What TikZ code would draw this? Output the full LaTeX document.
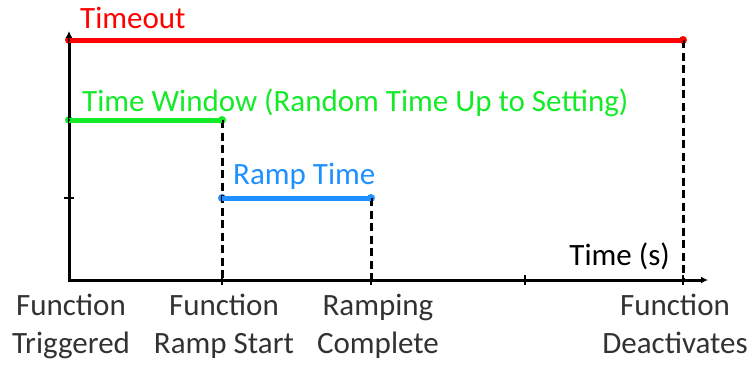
\documentclass[tikz,border=0pt]{standalone}
\usepackage{fontspec}
\setmainfont{Carlito}
\usetikzlibrary{arrows.meta}
\definecolor{tred}{RGB}{255,0,0}
\definecolor{tgreen}{RGB}{20,235,40}
\definecolor{tblue}{RGB}{30,144,255}
\definecolor{tgray}{RGB}{50,50,50}
\begin{document}
\begin{tikzpicture}[x=1pt,y=-1pt,
  axisline/.style={line width=3pt,black,{Latex[length=7pt,width=7pt]}-{Latex[length=7pt,width=7pt]}},
  tickmark/.style={line width=2.4pt,black},
  level/.style={line width=5pt},
  dropline/.style={line width=3pt,black,dash pattern=on 8pt off 4.5pt},
  enddot/.style={circle,inner sep=0pt,minimum size=8pt},
  lbl/.style={font=\fontsize{31}{38}\selectfont,inner sep=0pt},
  bottomlbl/.style={lbl,align=center,text=tgray,anchor=base}
]
\useasboundingbox (0,0) rectangle (754,364);
% key points
\coordinate (Ytop) at (69,31);
\coordinate (O) at (69,280);
\coordinate (Xend) at (708,280);
\coordinate (t1) at (222,280);
\coordinate (t2) at (371,280);
\coordinate (t3) at (525,280);
\coordinate (t4) at (683,280);
% dots for level ends
\node[enddot,fill=tred] (r0) at (69,40) {};
\node[enddot,fill=tred] (r1) at (683,40) {};
\node[enddot,fill=tgreen] (g0) at (69,120) {};
\node[enddot,fill=tgreen] (g1) at (222,120) {};
\node[enddot,fill=tblue] (b0) at (222,198) {};
\node[enddot,fill=tblue] (b1) at (371,198) {};
% dashed drops
\draw[dropline] (r1.center) -- (t4);
\draw[dropline] (g1.center) -- (t1);
\draw[dropline] (b1.center) -- (t2);
% axes
\draw[axisline] (Ytop) |- (Xend);
% ticks
\foreach \p in {t1,t2,t3,t4} \draw[tickmark] ([yshift=-5pt]\p) -- ([yshift=5pt]\p);
\draw[tickmark] (64,198) -- (74,198);
% level lines
\draw[level,tred] (r0.center) -- (r1.center);
\draw[level,tgreen] (g0.center) -- (g1.center);
\draw[level,tblue] (b0.center) -- (b1.center);
\fill[black] (r0.center) circle (1.3pt) (g0.center) circle (1.3pt);
% labels
\node[lbl,text=tred,anchor=base west] (ltimeout) at (80,28) {Timeout};
\node[lbl,text=tgreen,anchor=base west] (lwindow) at (82,111) {Time Window (Random Time Up to Setting)};
\node[lbl,text=tblue,anchor=base west] (lramp) at (233,184) {Ramp Time};
\node[lbl,text=black,anchor=base east] (ltime) at (670,265) {Time (s)};
\node[bottomlbl] (f1) at (71,353) {Function\\Triggered};
\node[bottomlbl] (f2) at (224,353) {Function\\Ramp Start};
\node[bottomlbl] (f3) at (378,353) {Ramping\\Complete};
\node[bottomlbl] (f4) at (675,353) {Function\\Deactivates};
\end{tikzpicture}
\end{document}
